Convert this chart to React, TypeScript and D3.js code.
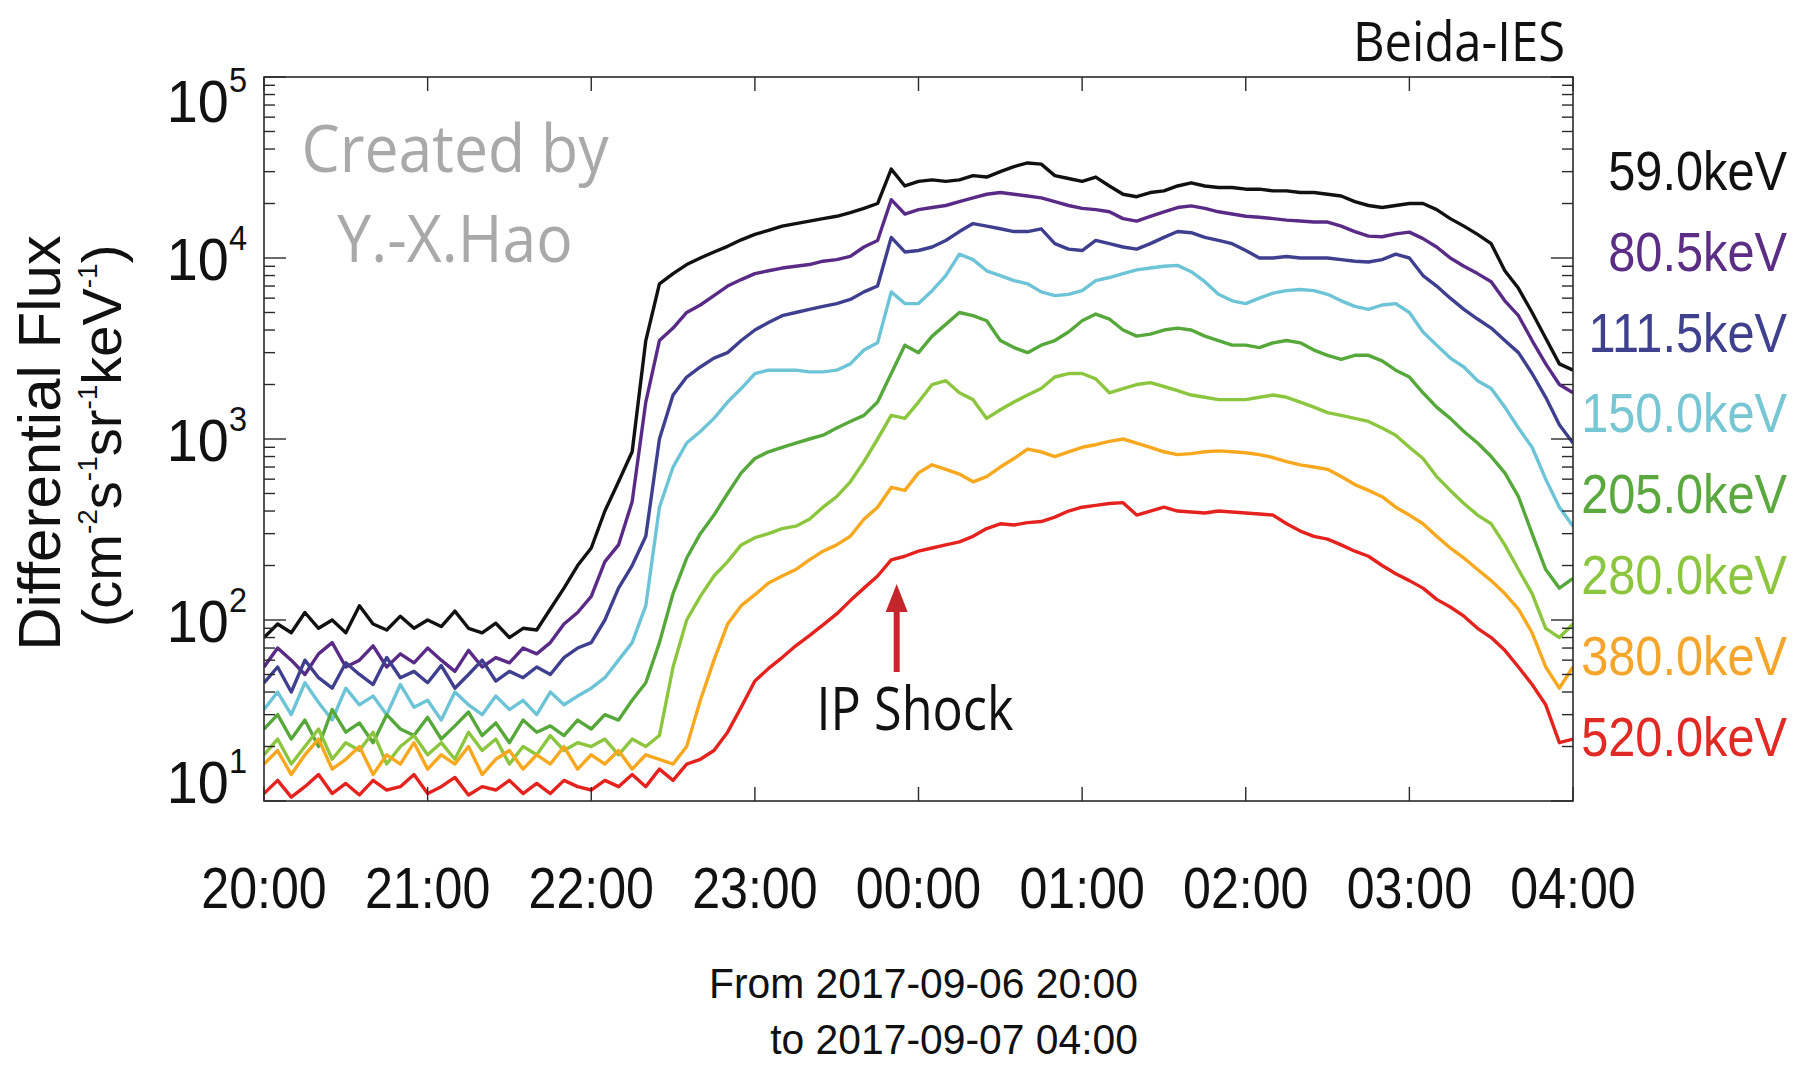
import React from "react";
import * as d3 from "d3";

// ---- data (flux in cm^-2 s^-1 sr^-1 keV^-1), sampled every 5 minutes from 2017-09-06 20:00 ----
const stepMinutes = 5;
const hourLabels = ["20:00", "21:00", "22:00", "23:00", "00:00", "01:00", "02:00", "03:00", "04:00"];
const channelLabels = ["59.0keV", "80.5keV", "111.5keV", "150.0keV", "205.0keV", "280.0keV", "380.0keV", "520.0keV"];
const lineColors = ["#111111", "#5a2a87", "#3e3f8f", "#6cc4d6", "#56a83a", "#8cc63f", "#f7a81e", "#e4231f"];
const labelColors = ["#111111", "#5b2d84", "#3f418e", "#76c6d4", "#5aa83e", "#8cc63f", "#f5a62a", "#e22a25"];

const flux59 = [
  80, 95, 85, 110, 90, 100, 85, 120, 95, 88,
  105, 90, 100, 92, 112, 90, 85, 96, 80, 90,
  88, 115, 150, 200, 250, 400, 580, 850, 3500, 7200,
  8200, 9200, 10000, 10800, 11600, 12600, 13500, 14200, 15000, 15500,
  16000, 16500, 17000, 17800, 18800, 20000, 31000, 25000, 26500, 27000,
  26500, 27000, 28500, 28000, 30000, 32000, 33500, 33000, 28500, 27500,
  26500, 28000, 25000, 22500, 21800, 23000, 23500, 25000, 26000, 25000,
  24500, 24500, 24000, 24000, 23500, 23500, 23000, 23000, 22500, 22000,
  20500, 19500, 19000, 19500, 20000, 20000, 18500, 16500, 15000, 13500,
  12000, 8500, 6800, 5000, 3600, 2600, 2400,
];
const flux80 = [
  55, 70, 60, 50, 65, 75, 55, 60, 72, 55,
  65, 58, 70, 60, 52, 68, 55, 62, 58, 70,
  65, 75, 95, 110, 135, 210, 260, 450, 1600, 3500,
  4100, 5000, 5500, 6200, 7000, 7600, 8200, 8500, 8800, 9000,
  9200, 9600, 9800, 10200, 11500, 12500, 21000, 17500, 18500, 19000,
  19500, 20500, 21500, 22500, 23000, 22500, 22000, 21500, 20500, 19500,
  18800, 18500, 18000, 16500, 16000, 17000, 18000, 19000, 19400, 18800,
  18000, 17500, 17000, 16800, 16500, 16200, 16000, 15800, 15800, 15000,
  14000, 13200, 13100, 13600, 13900, 12800, 11500, 10000, 9000, 8200,
  7400, 5800, 4800, 3500, 2600, 2000, 1800,
];
const flux111 = [
  45, 55, 40, 60, 48, 42, 58, 50, 44, 62,
  48, 52, 45, 56, 42, 50, 60, 46, 52, 48,
  55, 50, 62, 70, 75, 100, 150, 200, 290, 1000,
  1750, 2200, 2500, 2800, 3000, 3500, 4000, 4400, 4800, 5000,
  5200, 5400, 5600, 5900, 6500, 7000, 13000, 10800, 11000, 11500,
  12500, 14000, 15500, 15000, 14500, 14000, 14000, 14500, 12000, 11200,
  11000, 12500, 12000, 11500, 11200, 12000, 13000, 14000, 13800, 13000,
  12500, 12000, 11000, 10000, 10000, 10200, 10000, 10000, 10000, 9800,
  9600, 9500, 9800, 10500, 10000, 8000, 7000, 6000, 5200, 4600,
  4100, 3500, 3000, 2300, 1700, 1200, 950,
];
const flux150 = [
  32, 40, 30, 45, 35, 28, 42, 34, 38, 30,
  44, 33, 36, 28, 40, 34, 30, 38, 32, 36,
  30, 40, 34, 38, 42, 48, 60, 75, 120, 420,
  700, 950, 1100, 1300, 1600, 1900, 2300, 2400, 2400, 2400,
  2350, 2350, 2400, 2600, 3100, 3400, 6500, 5600, 5600, 6600,
  8000, 10500, 9800, 8500, 8000, 7500, 7200, 6500, 6200, 6300,
  6600, 7500, 7800, 8200, 8600, 8800, 9000, 9100, 8400, 7400,
  6300, 5800, 5600, 6000, 6400, 6600, 6700, 6600, 6300, 5800,
  5400, 5200, 5500, 5600, 5000, 3900, 3300, 2800, 2500, 2100,
  1900, 1500, 1150, 900, 600, 420, 330,
];
const flux205 = [
  25, 30, 22, 28, 20, 32, 24, 27, 21, 30,
  25, 23, 29, 22, 26, 31, 23, 27, 21, 28,
  24, 26, 23, 28, 25, 30, 28, 36, 45, 75,
  140, 220, 300, 380, 500, 650, 780, 850, 900, 950,
  1000, 1050, 1150, 1250, 1350, 1600, 2300, 3300, 3000, 3700,
  4300, 5000, 4800, 4500, 3500, 3200, 3000, 3300, 3500, 3900,
  4500, 4900, 4600, 4000, 3700, 3800, 4000, 4100, 4000, 3700,
  3500, 3300, 3300, 3200, 3400, 3500, 3400, 3100, 2900, 2750,
  2900, 2900, 2700, 2400, 2200, 1800, 1500, 1300, 1100, 950,
  800, 650, 480, 300, 190, 150, 170,
];
const flux280 = [
  18, 22, 16, 20, 25, 17, 21, 19, 24, 16,
  20, 23, 18, 21, 17, 24, 19, 22, 16, 20,
  18, 23, 19, 21, 20, 22, 18, 22, 20, 23,
  55, 100, 135, 175, 210, 260, 285, 300, 320, 330,
  360, 420, 480, 580, 750, 1000, 1350, 1300, 1600, 2000,
  2100, 1800, 1650, 1300, 1450, 1600, 1750, 1900, 2200, 2300,
  2300, 2150, 1800, 1900, 2000, 2050, 1950, 1850, 1750, 1700,
  1650, 1650, 1650, 1700, 1750, 1700, 1600, 1500, 1400, 1350,
  1300, 1250, 1150, 1050, 900, 780, 620, 520, 440, 380,
  340, 260, 190, 140, 90, 80, 95,
];
const flux380 = [
  16, 19, 14, 18, 22, 15, 17, 20, 14, 18,
  16, 21, 15, 18, 16, 20, 14, 17, 19, 15,
  18, 16, 20, 15, 18, 16, 19, 15, 18, 17,
  16, 20, 36, 60, 95, 120, 138, 160, 175, 190,
  215, 240, 260, 290, 360, 420, 540, 520, 650, 720,
  680, 640, 580, 620, 700, 780, 880, 850, 800, 850,
  900, 930, 970, 1000, 950, 900, 850, 820, 830, 850,
  860, 850, 840, 820, 790, 750, 720, 700, 680, 620,
  560, 520, 480, 420, 380, 340, 290, 250, 220, 190,
  165, 140, 115, 85, 55, 42, 55,
];
const flux520 = [
  11, 13, 10.5, 12, 14, 11, 12.5, 10.8, 13, 11.5,
  12, 14, 11, 12, 13.5, 10.8, 12, 11.5, 13, 11,
  12.5, 11, 13, 12, 11.5, 13, 12, 14, 12, 15,
  13, 16, 17, 19, 24, 33, 46, 54, 62, 72,
  82, 94, 108, 128, 150, 175, 215, 225, 240, 250,
  260, 270, 290, 320, 340, 335, 345, 350, 370, 400,
  420, 430, 440, 445, 380, 400, 420, 400, 395, 390,
  400, 395, 390, 385, 380, 340, 310, 290, 280, 260,
  240, 225, 200, 180, 165, 150, 130, 118, 105, 90,
  80, 68, 55, 44, 34, 21, 22,
];
const series = [flux59, flux80, flux111, flux150, flux205, flux280, flux380, flux520];
const shockMinute = 232; // IP shock at ~23:52

// ---- layout ----
const W = 1802;
const H = 1065;
const L = 264, R = 1573, T = 77, B = 801;
const FONT = "'Liberation Sans', Arial, Helvetica, sans-serif";
const HUM = "'Open Sans', 'Noto Sans', sans-serif";

function CText(props: any) {
  const { x, y, sx = 1, anchor = "start", size, fill = "#111", family = FONT, children } = props;
  return (
    <g transform={`translate(${x},${y}) scale(${sx},1)`}>
      <text x={0} y={0} textAnchor={anchor} fontSize={size} fill={fill} fontFamily={family}>
        {children}
      </text>
    </g>
  );
}

export default function App() {
  const x = d3.scaleLinear().domain([0, 480]).range([L, R]);
  const y = d3.scaleLog().domain([10, 1e5]).range([B, T]);
  const line = d3
    .line<number>()
    .x((_, i) => x(i * stepMinutes))
    .y((v) => y(v));

  const yTicks = y.ticks();
  const isMajor = (v: number) => Math.abs(Math.log10(v) - Math.round(Math.log10(v))) < 1e-9;
  const majors = yTicks.filter(isMajor);
  const hourTicks = hourLabels.map((_, i) => i * 60);
  const ax = "#2a2a2a";
  const sx = x(shockMinute);

  return (
    <svg width={W} height={H} style={{ position: "absolute", left: 0, top: 0, background: "#fff" }}>
      <rect x={0} y={0} width={W} height={H} fill="#fff" />
      <defs>
        <clipPath id="plot">
          <rect x={L} y={T} width={R - L} height={B - T} />
        </clipPath>
      </defs>

      {/* data lines */}
      <g clipPath="url(#plot)">
        {series.map((s, k) => (
          <path key={k} d={line(s) || ""} fill="none" stroke={lineColors[k]} strokeWidth={3.4} strokeLinejoin="round" />
        ))}
      </g>

      {/* frame */}
      <rect x={L} y={T} width={R - L} height={B - T} fill="none" stroke={ax} strokeWidth={1.6} />

      {/* y ticks, both sides */}
      {yTicks.map((v, i) => {
        const len = isMajor(v) ? 22 : 11;
        const yy = y(v);
        return (
          <g key={i} stroke={ax} strokeWidth={1.4}>
            <line x1={L} x2={L + len} y1={yy} y2={yy} />
            <line x1={R} x2={R - len} y1={yy} y2={yy} />
          </g>
        );
      })}
      {/* x ticks, top and bottom */}
      {hourTicks.map((m, i) => (
        <g key={i} stroke={ax} strokeWidth={1.4}>
          <line x1={x(m)} x2={x(m)} y1={B} y2={B - 14} />
          <line x1={x(m)} x2={x(m)} y1={T} y2={T + 14} />
        </g>
      ))}

      {/* y tick labels */}
      {majors.map((v, i) => {
        const e = Math.round(Math.log10(v));
        let base = y(v) + 21.5;
        if (e === 5) base = y(v) + 45;
        if (e === 1) base = y(v) + 2;
        return (
          <CText key={i} x={247} y={base} sx={0.93} anchor="end" size={60}>
            10
            <tspan dy={-30} fontSize={35}>{e}</tspan>
          </CText>
        );
      })}

      {/* x tick labels */}
      {hourTicks.map((m, i) => (
        <CText key={i} x={x(m)} y={908} sx={0.88} anchor="middle" size={57}>
          {hourLabels[i]}
        </CText>
      ))}

      {/* y axis title */}
      <g transform="translate(60,443) rotate(-90)">
        <text x={0} y={0} textAnchor="middle" fontSize={60} fill="#111" fontFamily={FONT}>
          Differential Flux
        </text>
      </g>
      <g transform="translate(121,436) rotate(-90)">
        <text x={0} y={0} textAnchor="middle" fontSize={56} fill="#111" fontFamily={FONT}>
          (cm
          <tspan dy={-24} fontSize={28}>-2</tspan>
          <tspan dy={24}>s</tspan>
          <tspan dy={-24} fontSize={28}>-1</tspan>
          <tspan dy={24}>sr</tspan>
          <tspan dy={-24} fontSize={28}>-1</tspan>
          <tspan dy={24}>keV</tspan>
          <tspan dy={-24} fontSize={28}>-1</tspan>
          <tspan dy={24}>)</tspan>
        </text>
      </g>

      {/* watermark */}
      <CText x={455} y={172} sx={0.92} anchor="middle" size={66} fill="#a9a9a9" family={HUM}>
        Created by
      </CText>
      <CText x={455} y={262} sx={0.92} anchor="middle" size={66} fill="#a9a9a9" family={HUM}>
        Y.-X.Hao
      </CText>

      {/* instrument name */}
      <CText x={1565} y={61} sx={0.89} anchor="end" size={55} fill="#111" family={HUM}>
        Beida-IES
      </CText>

      {/* channel labels */}
      {channelLabels.map((c, i) => (
        <CText key={i} x={1787} y={190 + i * 80.8} sx={0.87} anchor="end" size={56} fill={labelColors[i]}>
          {c}
        </CText>
      ))}

      {/* IP shock arrow */}
      <g fill="#c4262c">
        <rect x={sx - 3} y={606} width={6} height={66} />
        <polygon points={`${sx},584 ${sx - 11},612 ${sx + 11},612`} />
      </g>
      <CText x={915} y={730} sx={0.84} anchor="middle" size={60} fill="#111" family={HUM}>
        IP Shock
      </CText>

      {/* time range */}
      <CText x={1138} y={998} sx={0.95} anchor="end" size={43}>
        From 2017-09-06 20:00
      </CText>
      <CText x={1138} y={1054} sx={0.95} anchor="end" size={43}>
        to 2017-09-07 04:00
      </CText>
    </svg>
  );
}
